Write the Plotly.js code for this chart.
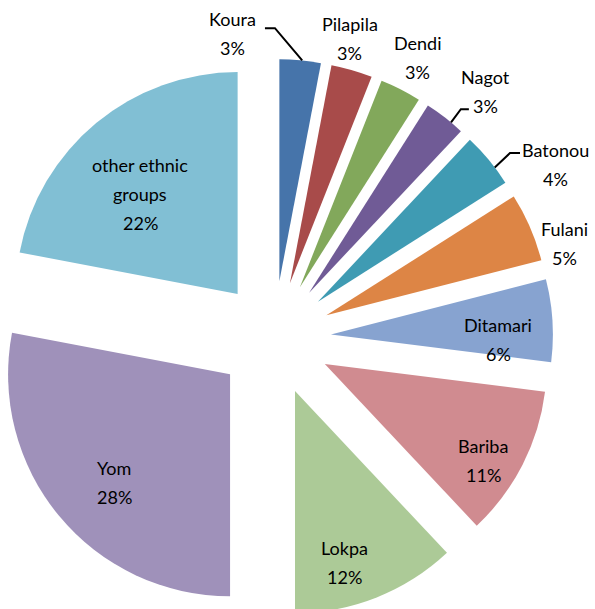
<!DOCTYPE html>
<html><head><meta charset="utf-8">
<script src="https://cdn.plot.ly/plotly-3.0.1.min.js"></script>
<style>html,body{margin:0;padding:0;background:#fff;overflow:hidden;width:595px;height:609px}
#chart{position:absolute;left:-25px;top:0;width:620px;height:620px}</style>
</head><body><div id="chart"></div>
<script>
// ---- data ----
const groups = ['Koura','Pilapila','Dendi','Nagot','Batonou','Fulani','Ditamari','Bariba','Lokpa','Yom','other ethnic groups'];
const shares = [3,3,3,3,4,5,6,11,12,28,22];
const colors = ['#4674AA','#A84B4A','#82A85B','#705B96','#3F9BB3','#DD8545','#87A3D0','#D08B90','#ACCA97','#9F91BA','#81BFD4'];

// ---- label placement (radius fraction from slice apex, angle offset deg) ----
const labelPlace = [[1.137,-16],[1.137,-2.43],[1.165,0.16],[1.209,3.44],[1.235,9.46],[1.123,6.54],[0.753,5.18],[0.834,4.28],[0.806,5.38],[0.716,-3.52],[0.629,-4.7]];
const leaders = {0:{sx:32,sy:-5,h:10,da:0.5},3:{sx:-17,sy:18,h:-8,da:2},4:{sx:-35,sy:-11,h:-10,da:2.4}};

const W=620, H=620, pull=0.257;
const dom = {x:[0.03226,0.93226], y:[0.004839,0.90484]};
const cx = W*(dom.x[0]+dom.x[1])/2, cy = H*(1-(dom.y[0]+dom.y[1])/2);
const r = Math.min(W*(dom.x[1]-dom.x[0]), H*(dom.y[1]-dom.y[0]))/(2+2*pull);
const total = shares.reduce((a,b)=>a+b,0);
const FONT = {family:'Lato, "Open Sans", sans-serif', size:18, color:'#000'};
const GAP = 29;
const px = x => x/W, py = y => 1 - y/H;
const rad = d => d*Math.PI/180;

const annotations = [], shapes = [];
let cum = 0;
shares.forEach((v,i)=>{
  const mid = (cum + v/2)/total*2*Math.PI; cum += v;
  const ax = cx + pull*r*Math.sin(mid), ay = cy - pull*r*Math.cos(mid);
  const [rf, off] = labelPlace[i];
  const a = mid + rad(off);
  const lx = ax + rf*r*Math.sin(a), ly = ay - rf*r*Math.cos(a);
  const name = groups[i];
  let lines = [name];
  if (name.length > 12) { const k = name.lastIndexOf(' '); lines = [name.slice(0,k), name.slice(k+1)]; }
  lines.push(v + '%');
  const n = lines.length;
  lines.forEach((t,j)=>{
    annotations.push({xref:'paper', yref:'paper', x:px(lx), y:py(ly + (j-(n-1)/2)*GAP),
      text:t, showarrow:false, xanchor:'center', yanchor:'middle', font:FONT});
  });
  if (leaders[i]) {
    const L = leaders[i];
    const sx = lx + L.sx, sy = ly + L.sy;
    const ea = mid + rad(L.da);
    const ex = ax + r*Math.sin(ea), ey = ay - r*Math.cos(ea);
    shapes.push({type:'path', xref:'paper', yref:'paper',
      path:`M ${px(sx)},${py(sy)} L ${px(sx+L.h)},${py(sy)} L ${px(ex)},${py(ey)}`,
      line:{color:'#000', width:2}});
  }
});

const trace = {
  type:'pie', labels:groups, values:shares, sort:false, direction:'clockwise', rotation:0,
  pull:shares.map(()=>pull), marker:{colors:colors, line:{width:0}},
  textinfo:'none', hoverinfo:'skip', showlegend:false, domain:dom
};
Plotly.newPlot('chart',[trace],{
  width:W, height:H, margin:{l:0,r:0,t:0,b:0}, paper_bgcolor:'#fff', showlegend:false,
  annotations:annotations, shapes:shapes
},{staticPlot:true});
</script></body></html>
